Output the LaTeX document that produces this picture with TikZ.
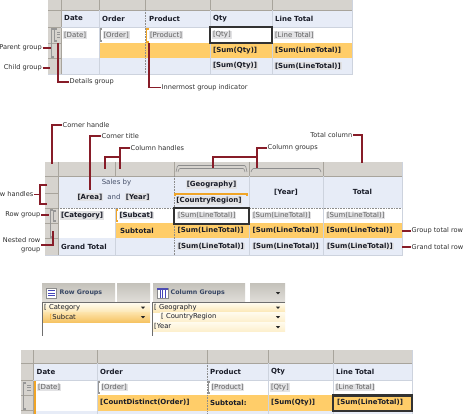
\documentclass[tikz,border=0pt]{standalone}
\usepackage{fontspec}
\setmainfont{DejaVu Sans}
\usepackage{xcolor}
\usetikzlibrary{positioning,calc}
\definecolor{hdlgray}{RGB}{214,211,206}
\definecolor{hdlline}{RGB}{168,164,156}
\definecolor{hdrblue}{RGB}{231,236,247}
\definecolor{ordfill}{RGB}{255,205,105}
\definecolor{ordbar}{RGB}{240,165,40}
\definecolor{gridcol}{RGB}{205,211,222}
\definecolor{fieldbg}{RGB}{226,226,228}
\definecolor{fieldtxt}{RGB}{95,95,95}
\definecolor{txtdark}{RGB}{25,28,40}
\definecolor{leadred}{RGB}{135,28,40}
\definecolor{lbltxt}{RGB}{45,45,45}
\definecolor{selcol}{RGB}{50,50,50}
\definecolor{brgray}{RGB}{150,150,150}
\definecolor{slatetxt}{RGB}{70,80,105}
\definecolor{panetop}{RGB}{196,193,186}
\definecolor{panebot}{RGB}{224,222,217}
\definecolor{paneline}{RGB}{110,110,110}
\definecolor{panetxt}{RGB}{55,70,100}
\definecolor{itemtop}{RGB}{255,251,238}
\definecolor{itembot}{RGB}{252,232,182}
\definecolor{subtop}{RGB}{253,228,172}
\definecolor{subbot}{RGB}{246,196,100}
\begin{document}
\begin{tikzpicture}[x=1pt, y=-1pt,
  hdr/.style={anchor=west, inner sep=1pt, font=\bfseries\fontsize{7}{8}\selectfont, text=txtdark},
  fld/.style={anchor=west, inner sep=0.8pt, fill=fieldbg, font=\fontsize{7}{8}\selectfont, text=fieldtxt},
  fldb/.style={fld, font=\bfseries\fontsize{7}{8}\selectfont, text=txtdark},
  txt/.style={inner sep=1pt, font=\fontsize{7}{8}\selectfont, text=slatetxt},
  lbl/.style={inner sep=0.5pt, font=\fontsize{6.6}{8.5}\selectfont, text=lbltxt},
  lead/.style={draw=leadred, line width=1.2pt},
  hdlsep/.style={draw=hdlline, line width=0.6pt},
  gridln/.style={draw=gridcol, line width=0.6pt},
  dotln/.style={draw=black!45, line width=0.6pt, densely dotted},
  selbox/.style={draw=selcol, line width=2.2pt},
  grpbr/.style={draw=brgray, line width=1.3pt},
  ordbr/.style={draw=ordbar, line width=1.4pt},
  colbr/.style={draw=black!45, line width=0.6pt, rounded corners=1pt},
  paneitem/.style={anchor=west, inner sep=0.5pt, font=\fontsize{6.8}{8}\selectfont, text=txtdark},
  panehdr/.style={anchor=west, inner sep=0.5pt, font=\bfseries\fontsize{6.3}{8}\selectfont, text=panetxt}]
  \useasboundingbox (0,0) rectangle (474,414);
  \clip (0,0) rectangle (474,414);
  \fill[white] (0,0) rectangle (474,414);

  \fill[hdlgray] (48,0) rectangle (352,10);
  \fill[hdlgray] (48,10) rectangle (61,74);
  \fill[hdrblue] (61,10) rectangle (352,27);
  \fill[ordfill] (99,43) rectangle (352,58);
  \fill[hdrblue] (61,58) rectangle (352,74);
  \foreach \x in {61,99,145,210,272} \draw[hdlsep] (\x,0) -- (\x,10);
  \foreach \y in {27,43,58} \draw[hdlsep] (48,\y) -- (61,\y);
  \draw[hdlsep] (48,10) -- (352,10) (61,10) -- (61,74);
  \foreach \x in {99,210,272} \draw[gridln] (\x,10) -- (\x,74);
  \draw[gridln] (61,27) -- (352,27);
  \draw[gridln] (352,0) -- (352,74) -- (48,74);
  \draw[dotln] (145,10) -- (145,74);
  \draw[selbox] (210,27) rectangle (272,43);
  \draw[grpbr] (54,29) -- (51.5,29) -- (51.5,57) -- (54,57);
  \draw[grpbr] (56.5,29) -- (54.8,29) -- (54.8,41) -- (56.5,41);
  \foreach \y in {32,34.5,37} \draw[brgray, line width=0.5pt] (57,\y) -- (60,\y);
  \draw[grpbr] (102,29) -- (100.5,29) -- (100.5,41) -- (102,41);
  \draw[ordbr] (148.5,29) -- (146.5,29) -- (146.5,42) -- (148.5,42);
  \node[hdr] (adate) at (63,18.5) {Date};
  \node[hdr] (aord) at (101,18.5) {Order};
  \node[hdr] (aprod) at (148,18.5) {Product};
  \node[hdr] (aqty) at (212,18.5) {Qty};
  \node[hdr] (altot) at (274,18.5) {Line Total};
  \node[fld] (adatef) at (63,35) {[Date]};
  \node[fld] (aordf) at (102.5,35) {[Order]};
  \node[fld] (aprodf) at (149,35) {[Product]};
  \node[fld] (aqtyf) at (212,35) {[Qty]};
  \node[fld] (altotf) at (274,35) {[Line Total]};
  \node[hdr] (asq) at (212,50.5) {[Sum(Qty)]};
  \node[hdr] (asl) at (274,50.5) {[Sum(LineTotal)]};
  \node[fldb] (agq) at (212,66) {[Sum(Qty)]};
  \node[fldb] (agl) at (274,66) {[Sum(LineTotal)]};
  \node[lbl, anchor=east] (pg) at (42.5,48) {Parent group};
  \node[lbl, anchor=east] (cg) at (42.5,68) {Child group};
  \node[lbl, anchor=west] (dg) at (69,82) {Details group};
  \node[lbl, anchor=west] (ig) at (161,87.5) {Innermost group indicator};
  \coordinate (pgt) at (51,48);
  \coordinate (cgt) at (50,68);
  \coordinate (dgt) at (58,43);
  \coordinate (igt) at (149,43);
  \draw[lead] (pg.east) -- (pgt);
  \draw[lead] (cg.east) -- (cgt);
  \draw[lead] (dg.west) -| (dgt);
  \draw[lead] (ig.west) -| (igt);

  \fill[hdlgray] (45,162) rectangle (402,176);
  \fill[hdlgray] (45,176) rectangle (58,255);
  \fill[hdrblue] (58,176) rectangle (402,208);
  \fill[ordfill] (115,223) rectangle (402,238);
  \fill[hdrblue] (58,238) rectangle (402,255);
  \foreach \x in {58,115,174,249,323} \draw[hdlsep] (\x,162) -- (\x,176);
  \foreach \y in {193,208,223,238} \draw[hdlsep] (45,\y) -- (58,\y);
  \draw[hdlsep] (45,176) -- (402,176) (58,176) -- (58,255);
  \foreach \x in {249,323} \draw[gridln] (\x,176) -- (\x,255);
  \draw[gridln] (115,208) -- (115,255);
  \draw[gridln] (402,162) -- (402,255) -- (45,255);
  \draw[dotln] (174,176) -- (174,255) (58,208) -- (402,208);
  \draw[colbr] (176,172) -- (177.5,165.5) -- (245.5,165.5) -- (247,172);
  \draw[colbr] (178,172) -- (179,168.5) -- (244,168.5) -- (245,172);
  \draw[colbr] (251,172) -- (252.5,168.5) -- (319.5,168.5) -- (321,172);
  \draw[ordbr] (175,196) -- (175,194) -- (247,194) -- (247,196.5);
  \draw[selbox] (174,208) rectangle (249,224);
  \draw[grpbr] (53,210) -- (50.5,210) -- (50.5,237) -- (53,237);
  \draw[grpbr] (56,211) -- (53.8,211) -- (53.8,221) -- (56,221);
  \draw[ordbr] (118,210) -- (116.5,210) -- (116.5,221) -- (118,221);
  \node[txt] (bsales) at (116.5,183) {Sales by};
  \node[fldb] (barea) at (76.5,197) {[Area]};
  \node[txt, right=3pt of barea] (band) {and};
  \node[fldb, right=3pt of band] (byear) {[Year]};
  \node[fldb, anchor=center] (bgeo) at (211.5,184.5) {[Geography]};
  \node[fldb, anchor=center] (bcr) at (209,200.5) {[CountryRegion]};
  \node[hdr, anchor=center] (byr) at (286,192) {[Year]};
  \node[hdr, anchor=center] (btot) at (362.5,192) {Total};
  \node[fldb] (bcat) at (60,215.5) {[Category]};
  \node[fldb] (bsub) at (118.5,215.5) {[Subcat]};
  \node[fld] (bs1) at (177,215.5) {[Sum(LineTotal)]};
  \node[fld] (bs2) at (252,215.5) {[Sum(LineTotal)]};
  \node[fld] (bs3) at (326,215.5) {[Sum(LineTotal)]};
  \node[hdr] (bsubt) at (119,230.5) {Subtotal};
  \node[hdr] (bt1) at (176.5,230.5) {[Sum(LineTotal)]};
  \node[hdr] (bt2) at (251.5,230.5) {[Sum(LineTotal)]};
  \node[hdr] (bt3) at (325.5,230.5) {[Sum(LineTotal)]};
  \node[hdr] (bgt) at (60,246.5) {Grand Total};
  \node[fldb] (bg1) at (177,246.5) {[Sum(LineTotal)]};
  \node[fldb] (bg2) at (252,246.5) {[Sum(LineTotal)]};
  \node[fldb] (bg3) at (326,246.5) {[Sum(LineTotal)]};
  \node[lbl, anchor=west] (ch) at (62,125) {Corner handle};
  \node[lbl, anchor=west] (ct) at (101,136) {Corner title};
  \node[lbl, anchor=west] (colh) at (130,148) {Column handles};
  \node[lbl, anchor=west] (colg) at (267,148) {Column groups};
  \node[lbl, anchor=east] (tc) at (353,135) {Total column};
  \node[lbl, anchor=east] (rh) at (34,194.5) {Row handles};
  \node[lbl, anchor=east] (rg) at (41,215) {Row group};
  \node[lbl, anchor=east, align=right] (nrg) at (41,245) {Nested row\\group};
  \node[lbl, anchor=west] (gtr) at (411,231) {Group total row};
  \node[lbl, anchor=west] (grr) at (411,247) {Grand total row};
  \coordinate (cht) at (52,164);
  \coordinate (ctt) at (90,190);
  \coordinate (colhj) at (120,157);
  \coordinate (colht1) at (105,169);
  \coordinate (colht2) at (120,169);
  \coordinate (colgj) at (257,157);
  \coordinate (colgt1) at (213,168);
  \coordinate (colgt2) at (257,168);
  \coordinate (tct) at (362,163);
  \coordinate (rht1) at (47,185);
  \coordinate (rhm) at (40,194.5);
  \coordinate (rht2) at (47,204);
  \coordinate (rgt) at (49,215);
  \coordinate (nrgt) at (53,231);
  \coordinate (gtrs) at (402,231);
  \coordinate (grrs) at (402,247);
  \draw[lead] (ch.west) -| (cht);
  \draw[lead] (ct.west) -| (ctt);
  \draw[lead] (colh.west) -| (colht2);
  \draw[lead] (colhj) -| (colht1);
  \draw[lead] (colg.west) -| (colgt2);
  \draw[lead] (colgj) -| (colgt1);
  \draw[lead] (tc.east) -| (tct);
  \draw[lead] (rh.east) -- (rhm);
  \draw[lead] (rht1) -| (rhm) |- (rht2);
  \draw[lead] (rg.east) -- (rgt);
  \draw[lead] (nrg.east) -| (nrgt);
  \draw[lead] (gtrs) -- (gtr.west);
  \draw[lead] (grrs) -- (grr.west);

  \shade[top color=panetop, bottom color=panebot] (42,283) rectangle (115,302);
  \shade[top color=panetop, bottom color=panebot] (117,283) rectangle (150,302);
  \shade[top color=panetop, bottom color=panebot] (153,283) rectangle (245,302);
  \shade[top color=panetop, bottom color=panebot] (250,283) rectangle (285,302);
  \shade[top color=itemtop, bottom color=itembot] (43,303) rectangle (150,312);
  \shade[top color=subtop, bottom color=subbot] (43,312) rectangle (150,322);
  \shade[top color=itemtop, bottom color=itembot] (153,303) rectangle (285,312);
  \shade[top color=itemtop, bottom color=itembot!70!white] (160,312) rectangle (285,322);
  \shade[top color=itemtop, bottom color=itembot!70!white] (153,322) rectangle (285,331.5);
  \draw[paneline] (42,302.5) -- (150,302.5) (153,302.5) -- (285,302.5);
  \draw[paneline] (42.5,302) -- (42.5,336) (152.5,302) -- (152.5,336);
  \draw[black!45, fill=white] (46,288) rectangle (56,298);
  \foreach \y in {290.5,293,295.5} \draw[blue!45!gray, line width=0.6pt] (48,\y) -- (54.5,\y);
  \draw[black!45, fill=white] (157,288) rectangle (168,298);
  \fill[blue!40!gray] (157,288) rectangle (168,290);
  \foreach \x in {159.8,162.5,165.2} \draw[blue!45!gray, line width=0.5pt] (\x,290) -- (\x,298);
  \foreach \x/\y in {143/307.5,143/317,278/293,278/307.5,278/317,278/327}
    \fill[black!85] (\x-2.2,\y-1) -- (\x+2.2,\y-1) -- (\x,\y+1.4) -- cycle;
  \node[panehdr] (crg) at (59,293) {Row Groups};
  \node[panehdr] (ccg) at (170,293) {Column Groups};
  \node[paneitem] (ccat) at (43.5,307.5) {[ Category};
  \node[paneitem] (csub) at (49,317) {{\color{ordbar}[}Subcat};
  \node[paneitem] (cgeo) at (153.5,307.5) {[ Geography};
  \node[paneitem] (ccr) at (160.5,317) {[ CountryRegion};
  \node[paneitem] (cyr) at (153.5,326.8) {[Year};

  \fill[hdlgray] (21,350) rectangle (412,363);
  \fill[hdlgray] (21,363) rectangle (33,414);
  \fill[hdrblue] (33,363) rectangle (412,380);
  \fill[ordfill] (97,395) rectangle (412,410.5);
  \fill[hdrblue] (33,410.5) rectangle (412,414);
  \foreach \x in {33,97,207,268,333} \draw[hdlsep] (\x,350) -- (\x,363);
  \foreach \y in {380,395,410.5} \draw[hdlsep] (21,\y) -- (33,\y);
  \draw[hdlsep] (21,363) -- (412,363) (33,363) -- (33,414);
  \foreach \x in {97,268,333} \draw[gridln] (\x,363) -- (\x,414);
  \draw[gridln] (33,380) -- (412,380);
  \draw[gridln] (412,350) -- (412,414);
  \draw[dotln] (207,363) -- (207,414);
  \draw[grpbr] (26,383) -- (23.5,383) -- (23.5,409) -- (26,409);
  \foreach \y in {385,387.5,390} \draw[brgray, line width=0.5pt] (27,\y) -- (31,\y);
  \draw[ordbr] (35,381) -- (35,414);
  \draw[grpbr] (100,382) -- (98.5,382) -- (98.5,393) -- (100,393);
  \draw[grpbr] (210,382) -- (208.5,382) -- (208.5,393) -- (210,393);
  \draw[selbox] (333,395.5) rectangle (412,411);
  \node[hdr] (ddate) at (35.5,371.5) {Date};
  \node[hdr] (dord) at (99,371.5) {Order};
  \node[hdr] (dprod) at (209,371.5) {Product};
  \node[hdr] (dqty) at (270,371.5) {Qty};
  \node[hdr] (dltot) at (335,371.5) {Line Total};
  \node[fld] (ddatef) at (37,387.5) {[Date]};
  \node[fld] (dordf) at (100.5,387.5) {[Order]};
  \node[fld] (dprodf) at (210.5,387.5) {[Product]};
  \node[fld] (dqtyf) at (270,387.5) {[Qty]};
  \node[fld] (dltotf) at (335,387.5) {[Line Total]};
  \node[hdr] (dcd) at (99,402.5) {[CountDistinct(Order)]};
  \node[hdr] (dsub) at (209,402.5) {Subtotal:};
  \node[hdr] (dsq) at (270,402.5) {[Sum(Qty)]};
  \node[hdr] (dsl) at (336,402.5) {[Sum(LineTotal)]};
\end{tikzpicture}
\end{document}
